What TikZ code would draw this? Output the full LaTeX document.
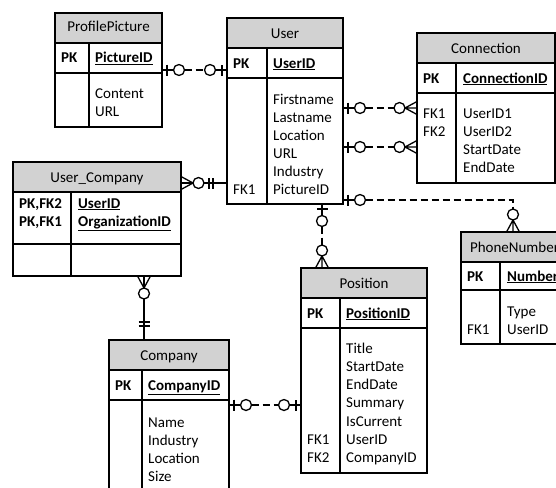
\documentclass[tikz,border=0pt]{standalone}
\usepackage{fontspec}
\setmainfont{Carlito}
\usetikzlibrary{calc,backgrounds}
\definecolor{hdrgray}{RGB}{210,210,210}
\tikzset{
 tbl/.style={draw, line width=1.1pt, rectangle, inner sep=0pt, outer sep=0pt, anchor=north west},
 sepline/.style={line width=1.1pt},
 txt/.style={anchor=base west, inner sep=0pt, font=\fontsize{15}{18}\selectfont},
 keytxt/.style={anchor=base west, inner sep=0pt, font=\fontsize{15}{18}\selectfont\bfseries},
 ttl/.style={anchor=base, inner sep=0pt, font=\fontsize{15}{18}\selectfont},
 conn/.style={line width=1.3pt},
 dsh/.style={line width=1.3pt, dash pattern=on 7pt off 4pt},
 zeroone/.pic={\draw[conn] (0,0) -- (11.5,0); \draw[conn] (5,-5.5) -- (5,5.5);
   \draw[conn, fill=white] (17,0) circle[radius=5.5pt];},
 zeromany/.pic={\draw[conn] (12,0) -- (0,-6.5) (12,0) -- (0,0) (12,0) -- (0,6.5);
   \draw[conn, fill=white] (17.5,0) circle[radius=5.5pt];},
 mandone/.pic={\draw[conn] (14,-5.5) -- (14,5.5) (18,-5.5) -- (18,5.5);}
}
\begin{document}
\begin{tikzpicture}[x=1pt,y=-1pt]
\useasboundingbox (0,0) rectangle (556,487);
% ---------- tables ----------
\node[tbl, minimum width=107pt, minimum height=114pt] (pp) at (55,13) {};
\node[tbl, minimum width=116pt, minimum height=186pt] (user) at (227,18) {};
\node[tbl, minimum width=138pt, minimum height=150pt] (conn) at (417,33) {};
\node[tbl, minimum width=168pt, minimum height=114pt] (uc) at (13,162) {};
\node[tbl, minimum width=107pt, minimum height=112pt] (ph) at (461,232) {};
\node[tbl, minimum width=126pt, minimum height=205pt] (pos) at (301,268) {};
\node[tbl, minimum width=120pt, minimum height=150pt] (comp) at (109,340) {};
\begin{scope}[on background layer]
 \fill[hdrgray] (pp.north west) rectangle (pp.east |- 0,43);
 \fill[hdrgray] (user.north west) rectangle (user.east |- 0,48);
 \fill[hdrgray] (conn.north west) rectangle (conn.east |- 0,63);
 \fill[hdrgray] (uc.north west) rectangle (uc.east |- 0,192);
 \fill[hdrgray] (ph.north west) rectangle (ph.east |- 0,262);
 \fill[hdrgray] (pos.north west) rectangle (pos.east |- 0,298);
 \fill[hdrgray] (comp.north west) rectangle (comp.east |- 0,370);
\end{scope}
% separators
\draw[sepline] (pp.west |- 0,43) -- (pp.east |- 0,43) (pp.west |- 0,73) -- (pp.east |- 0,73) (89,43) -- (pp.south -| 89,0);
\draw[sepline] (user.west |- 0,48) -- (user.east |- 0,48) (user.west |- 0,78) -- (user.east |- 0,78) (267,48) -- (user.south -| 267,0);
\draw[sepline] (conn.west |- 0,63) -- (conn.east |- 0,63) (conn.west |- 0,93) -- (conn.east |- 0,93) (456,63) -- (conn.south -| 456,0);
\draw[sepline] (uc.west |- 0,192) -- (uc.east |- 0,192) (uc.west |- 0,244) -- (uc.east |- 0,244) (71,192) -- (uc.south -| 71,0);
\draw[sepline] (ph.west |- 0,262) -- (ph.east |- 0,262) (ph.west |- 0,290) -- (ph.east |- 0,290) (500,262) -- (ph.south -| 500,0);
\draw[sepline] (pos.west |- 0,298) -- (pos.east |- 0,298) (pos.west |- 0,328) -- (pos.east |- 0,328) (340,298) -- (pos.south -| 340,0);
\draw[sepline] (comp.west |- 0,370) -- (comp.east |- 0,370) (comp.west |- 0,400) -- (comp.east |- 0,400) (142,370) -- (comp.south -| 142,0);
% ---------- texts ----------
% ProfilePicture
\node[ttl] (ppt) at (108.5,32) {ProfilePicture};
\node[keytxt] (pppk) at (61,63) {PK};
\node[keytxt] (ppid) at (95,63) {\underline{PictureID}};
\node[txt] (ppa1) at (95,98) {Content};
\node[txt] (ppa2) at (95,116) {URL};
% User
\node[ttl] (ut) at (285,38) {User};
\node[keytxt] (upk) at (233,68) {PK};
\node[keytxt] (uid) at (273,68) {\underline{UserID}};
\foreach \t [count=\i] in {Firstname,Lastname,Location,URL,Industry,PictureID}
  \node[txt] (ua\i) at (273,{104.3+18*(\i-1)}) {\t};
\node[txt] (ufk) at (233,194.3) {FK1};
% Connection
\node[ttl] (ct) at (486,53) {Connection};
\node[keytxt] (cpk) at (423,83) {PK};
\node[keytxt] (cid) at (463,83) {\underline{ConnectionID}};
\node[txt] (cfk1) at (423,118) {FK1};
\node[txt] (cfk2) at (423,136) {FK2};
\foreach \t [count=\i] in {UserID1,UserID2,StartDate,EndDate}
  \node[txt] (ca\i) at (463,{118+18*(\i-1)}) {\t};
% User_Company
\node[ttl] (uct) at (97,182) {User\_Company};
\node[keytxt] (ucpk1) at (19,208) {PK,FK2};
\node[keytxt] (ucpk2) at (19,226) {PK,FK1};
\node[keytxt] (ucid1) at (78,208) {\underline{UserID}};
\node[keytxt] (ucid2) at (78,226) {\underline{OrganizationID}};
% PhoneNumber
\node[ttl] (pht) at (514.5,252) {PhoneNumber};
\node[keytxt] (phpk) at (467,281) {PK};
\node[keytxt] (phid) at (507,281) {\underline{Number}};
\node[txt] (pha1) at (507,316) {Type};
\node[txt] (phfk) at (467,334) {FK1};
\node[txt] (pha2) at (507,334) {UserID};
% Position
\node[ttl] (post) at (364,288) {Position};
\node[keytxt] (pospk) at (307,318) {PK};
\node[keytxt] (posid) at (346,318) {\underline{PositionID}};
\foreach \t [count=\i] in {Title,StartDate,EndDate,Summary,IsCurrent,UserID,CompanyID}
  \node[txt] (posa\i) at (346,{353+18.3*(\i-1)}) {\t};
\node[txt] (posfk1) at (307,{353+18.3*5}) {FK1};
\node[txt] (posfk2) at (307,{353+18.3*6}) {FK2};
% Company
\node[ttl] (compt) at (169,360) {Company};
\node[keytxt] (comppk) at (115,390) {PK};
\node[keytxt] (compid) at (148,390) {\underline{CompanyID}};
\foreach \t [count=\i] in {Name,Industry,Location,Size}
  \node[txt] (compa\i) at (148,{427+18*(\i-1)}) {\t};
% ---------- connectors ----------
% ProfilePicture - User
\coordinate (a1) at (pp.east |- 0,70);
\coordinate (b1) at (user.west |- 0,70);
\draw[dsh] ($(a1)+(22.5,0)$) -- ($(b1)+(-22.5,0)$);
\pic at (a1) {zeroone};
\pic[rotate=180] at (b1) {zeroone};
% User - Connection (1)
\coordinate (a2) at (user.east |- 0,108);
\coordinate (b2) at (conn.west |- 0,108);
\draw[dsh] ($(a2)+(22.5,0)$) -- ($(b2)+(-23,0)$);
\pic at (a2) {zeroone};
\pic[rotate=180] at (b2) {zeromany};
% User - Connection (2)
\coordinate (a3) at (user.east |- 0,147);
\coordinate (b3) at (conn.west |- 0,147);
\draw[dsh] ($(a3)+(22.5,0)$) -- ($(b3)+(-23,0)$);
\pic at (a3) {zeroone};
\pic[rotate=180] at (b3) {zeromany};
% User - PhoneNumber
\coordinate (a4) at (user.east |- 0,200);
\coordinate (b4) at ($(ph.north west)+(52,0)$);
\draw[dsh] ($(a4)+(22.5,0)$) -- (b4 |- a4) -- ($(b4)+(0,-23)$);
\pic at (a4) {zeroone};
\pic[rotate=90] at (b4) {zeromany};
% User - Position
\coordinate (a5) at ($(user.south west)+(95,0)$);
\coordinate (b5) at (a5 |- pos.north);
\draw[dsh] ($(a5)+(0,22.5)$) -- ($(b5)+(0,-23)$);
\pic[rotate=-90] at (a5) {zeroone};
\pic[rotate=90] at (b5) {zeromany};
% User_Company - User
\coordinate (a6) at (uc.east |- 0,183);
\coordinate (b6) at (user.west |- 0,183);
\draw[conn] (a6) -- (b6);
\pic at (a6) {zeromany};
\pic[rotate=180] at (b6) {mandone};
% User_Company - Company
\coordinate (a7) at (uc.south -| 144,0);
\coordinate (b7) at (a7 |- comp.north);
\draw[conn] (a7) -- (b7);
\pic[rotate=-90] at (a7) {zeromany};
\pic[rotate=90] at (b7) {mandone};
% Company - Position
\coordinate (a8) at (comp.east |- 0,405);
\coordinate (b8) at (pos.west |- 0,405);
\draw[dsh] ($(a8)+(22.5,0)$) -- ($(b8)+(-22.5,0)$);
\pic at (a8) {zeroone};
\pic[rotate=180] at (b8) {zeroone};
\end{tikzpicture}
\end{document}
